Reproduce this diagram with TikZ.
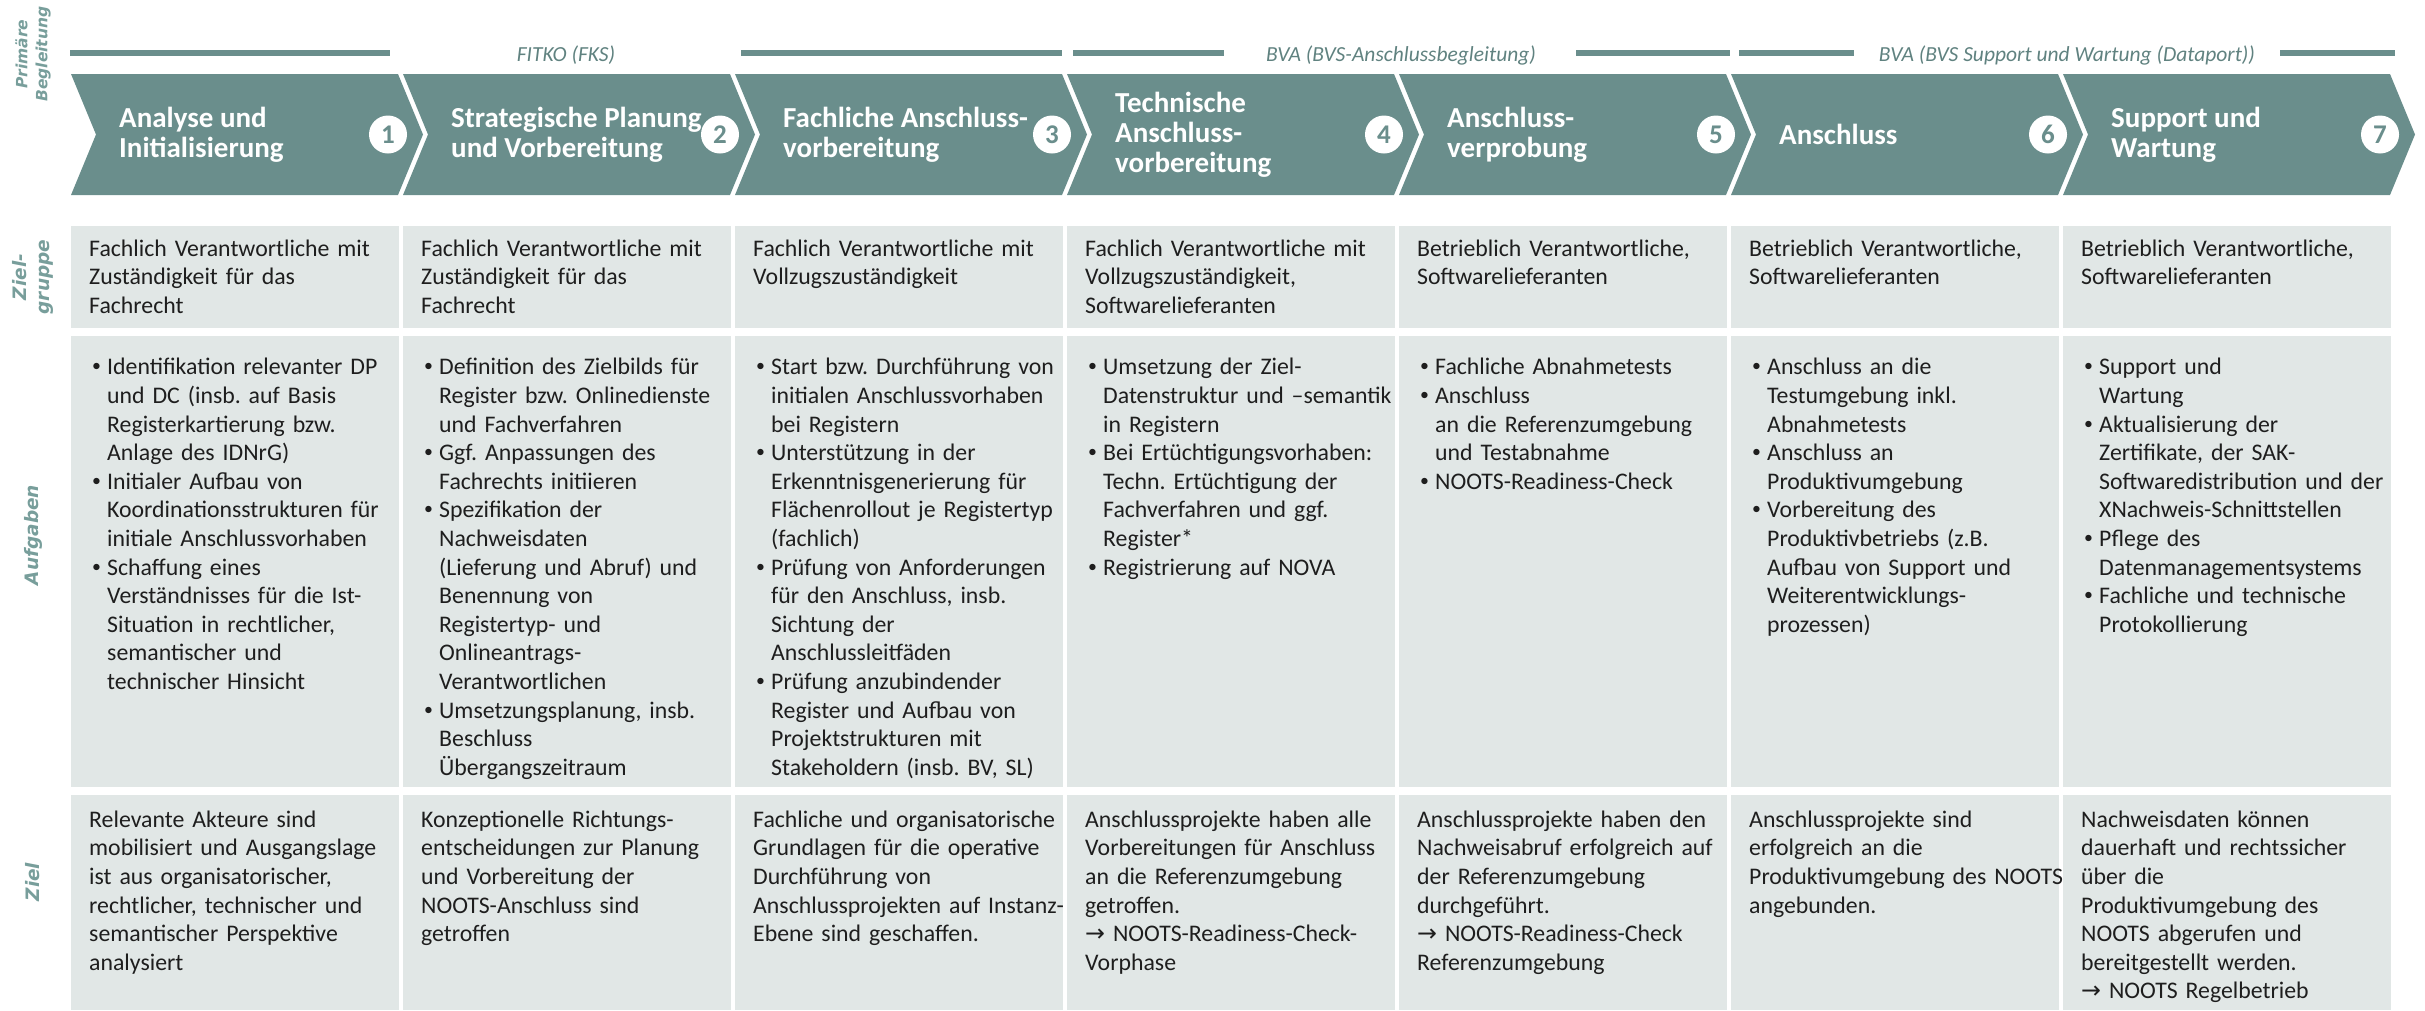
\documentclass[tikz,border=0pt]{standalone}
\usepackage{fontspec}
\setmainfont{Carlito}
\newfontfamily\sidefont{DejaVu Sans}
\frenchspacing
\definecolor{phasecol}{RGB}{106,142,140}
\definecolor{cellcol}{RGB}{225,231,230}
\definecolor{leadcol}{RGB}{96,130,128}
\definecolor{sidecol}{RGB}{120,158,155}
\definecolor{textcol}{RGB}{30,30,30}
\newcommand{\bul}[1]{\par\hangindent=15pt\hangafter=1\noindent
  \hbox to 15pt{\strut\raisebox{0.12em}{\scalebox{0.75}{\textbullet}}\hfil}{\let\\\newline#1}\par}
\newcommand{\arr}{{\sidefont →}}
\tikzset{phase/.style={fill=phasecol},
         cell/.style={fill=cellcol},
         title/.style={anchor=west, align=left, inner sep=0pt, text=white,
           font=\fontsize{29}{30}\selectfont\bfseries},
         num/.style={circle, fill=white, text=phasecol, minimum size=38pt,
           inner sep=0pt, font=\fontsize{27}{27}\selectfont\bfseries},
         txt/.style={anchor=north west, inner sep=0pt, text width=330pt,
           align=left, text=textcol, font=\fontsize{23.8}{28.6}\selectfont},
         bar/.style={draw=phasecol, line width=6pt},
         lead/.style={inner sep=0pt, text=leadcol,
           font=\fontsize{21.5}{21.5}\selectfont\itshape},
         side/.style={rotate=90, align=center, inner sep=0pt, text=sidecol,
           font=\sidefont\fontsize{18.5}{23}\selectfont\bfseries\itshape}}

\begin{document}
\begin{tikzpicture}[x=1pt, y=-1pt]
    \useasboundingbox (0,0) rectangle (2425,1010);

    % phases and table cells
    \foreach \i in {1,...,7}{
      \pgfmathsetmacro\L{71+332*(\i-1)}
      \fill[phase] (\L,74) -- ++(327,0) -- ++(25,60.5) -- ++(-25,60.5)
                   -- ++(-327,0) -- ++(25,-60.5) -- cycle;
      \node[num] (n\i) at (\L+317,134.5) {\i};
      \fill[cell] (\L,226) rectangle ++(328,102);
      \fill[cell] (\L,336) rectangle ++(328,451);
      \fill[cell] (\L,795) rectangle ++(328,215);
    }

    \node[title] (t1) at (119,134.5) {Analyse und\\Initialisierung};
    \node[title] (t2) at (451,134.5) {Strategische Planung\\und Vorbereitung};
    \node[title] (t3) at (783,134.5) {Fachliche Anschluss-\\vorbereitung};
    \node[title] (t4) at (1115,134.5) {Technische\\Anschluss-\\vorbereitung};
    \node[title] (t5) at (1447,134.5) {Anschluss-\\verprobung};
    \node[title] (t6) at (1779,134.5) {Anschluss};
    \node[title] (t7) at (2111,134.5) {Support und\\Wartung};

    % primaere Begleitung
    \draw[bar] (70,53) -- (390,53);
    \node[lead] (fitko) at (566,55) {FITKO (FKS)};
    \draw[bar] (741,53) -- (1062,53);
    \draw[bar] (1073,53) -- (1224,53);
    \node[lead] (bvaA) at (1401,55) {BVA (BVS-Anschlussbegleitung)};
    \draw[bar] (1576,53) -- (1730,53);
    \draw[bar] (1739,53) -- (1854,53);
    \node[lead] (bvaB) at (2067,55) {BVA (BVS Support und Wartung (Dataport))};
    \draw[bar] (2280,53) -- (2395,53);

    \node[side, font=\sidefont\fontsize{15.5}{20}\selectfont\bfseries\itshape]
      (s0) at (33,54) {Primäre\\Begleitung};
    \node[side] (s1) at (33,277) {Ziel-\\gruppe};
    \node[side] (s2) at (33,535) {Aufgaben};
    \node[side] (s3) at (33,882) {Ziel};

    % Zielgruppe
    \node[txt] (grp1) at (89,236) {\strut Fachlich Verantwortliche mit\\Zuständigkeit für das\\Fachrecht};
    \node[txt] (grp2) at (421,236) {\strut Fachlich Verantwortliche mit\\Zuständigkeit für das\\Fachrecht};
    \node[txt] (grp3) at (753,236) {\strut Fachlich Verantwortliche mit\\Vollzugszuständigkeit};
    \node[txt] (grp4) at (1085,236) {\strut Fachlich Verantwortliche mit\\Vollzugszuständigkeit,\\Softwarelieferanten};
    \node[txt] (grp5) at (1417,236) {\strut Betrieblich Verantwortliche,\\Softwarelieferanten};
    \node[txt] (grp6) at (1749,236) {\strut Betrieblich Verantwortliche,\\Softwarelieferanten};
    \node[txt] (grp7) at (2081,236) {\strut Betrieblich Verantwortliche,\\Softwarelieferanten};

    % Aufgaben
    \node[txt] (task1) at (92,346) {%
      \bul{Identifikation relevanter DP\\und DC (insb. auf Basis\\Registerkartierung bzw.\\Anlage des IDNrG)}
      \bul{Initialer Aufbau von\\Koordinationsstrukturen für\\initiale Anschlussvorhaben}
      \bul{Schaffung eines\\Verständnisses für die Ist-\\Situation in rechtlicher,\\semantischer und\\technischer Hinsicht}};
    \node[txt] (task2) at (424,346) {%
      \bul{Definition des Zielbilds für\\Register bzw. Onlinedienste\\und Fachverfahren}
      \bul{Ggf. Anpassungen des\\Fachrechts initiieren}
      \bul{Spezifikation der\\Nachweisdaten\\(Lieferung und Abruf) und\\Benennung von\\Registertyp- und\\Onlineantrags-\\Verantwortlichen}
      \bul{Umsetzungsplanung, insb.\\Beschluss\\Übergangszeitraum}};
    \node[txt] (task3) at (756,346) {%
      \bul{Start bzw. Durchführung von\\initialen Anschlussvorhaben\\bei Registern}
      \bul{Unterstützung in der\\Erkenntnisgenerierung für\\Flächenrollout je Registertyp\\(fachlich)}
      \bul{Prüfung von Anforderungen\\für den Anschluss, insb.\\Sichtung der\\Anschlussleitfäden}
      \bul{Prüfung anzubindender\\Register und Aufbau von\\Projektstrukturen mit\\Stakeholdern (insb. BV, SL)}};
    \node[txt] (task4) at (1088,346) {%
      \bul{Umsetzung der Ziel-\\Datenstruktur und –semantik\\in Registern}
      \bul{Bei Ertüchtigungsvorhaben:\\Techn. Ertüchtigung der\\Fachverfahren und ggf.\\Register*}
      \bul{Registrierung auf NOVA}};
    \node[txt] (task5) at (1420,346) {%
      \bul{Fachliche Abnahmetests}
      \bul{Anschluss\\an die Referenzumgebung\\und Testabnahme}
      \bul{NOOTS-Readiness-Check}};
    \node[txt] (task6) at (1752,346) {%
      \bul{Anschluss an die\\Testumgebung inkl.\\Abnahmetests}
      \bul{Anschluss an\\Produktivumgebung}
      \bul{Vorbereitung des\\Produktivbetriebs (z.B.\\Aufbau von Support und\\Weiterentwicklungs-\\prozessen)}};
    \node[txt] (task7) at (2084,346) {%
      \bul{Support und\\Wartung}
      \bul{Aktualisierung der\\Zertifikate, der SAK-\\Softwaredistribution und der\\XNachweis-Schnittstellen}
      \bul{Pflege des\\Datenmanagementsystems}
      \bul{Fachliche und technische\\Protokollierung}};

    % Ziel
    \node[txt] (goal1) at (89,807) {\strut Relevante Akteure sind\\mobilisiert und Ausgangslage\\ist aus organisatorischer,\\rechtlicher, technischer und\\semantischer Perspektive\\analysiert};
    \node[txt] (goal2) at (421,807) {\strut Konzeptionelle Richtungs-\\entscheidungen zur Planung\\und Vorbereitung der\\NOOTS-Anschluss sind\\getroffen};
    \node[txt] (goal3) at (753,807) {\strut Fachliche und organisatorische\\Grundlagen für die operative\\Durchführung von\\Anschlussprojekten auf Instanz-\\Ebene sind geschaffen.};
    \node[txt] (goal4) at (1085,807) {\strut Anschlussprojekte haben alle\\Vorbereitungen für Anschluss\\an die Referenzumgebung\\getroffen.\\\arr{} NOOTS-Readiness-Check-\\Vorphase};
    \node[txt] (goal5) at (1417,807) {\strut Anschlussprojekte haben den\\Nachweisabruf erfolgreich auf\\der Referenzumgebung\\durchgeführt.\\\arr{} NOOTS-Readiness-Check\\Referenzumgebung};
    \node[txt] (goal6) at (1749,807) {\strut Anschlussprojekte sind\\erfolgreich an die\\Produktivumgebung des NOOTS\\angebunden.};
    \node[txt] (goal7) at (2081,807) {\strut Nachweisdaten können\\dauerhaft und rechtssicher\\über die\\Produktivumgebung des\\NOOTS abgerufen und\\bereitgestellt werden.\\\arr{} NOOTS Regelbetrieb};
\end{tikzpicture}
\end{document}
